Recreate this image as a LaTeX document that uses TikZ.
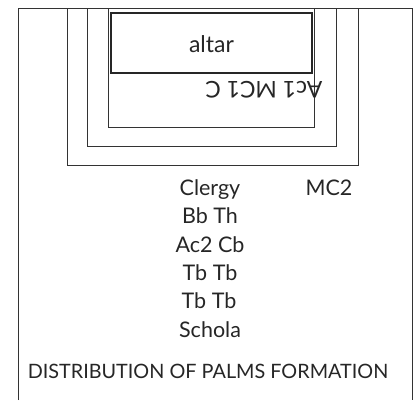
\documentclass[tikz,border=0pt]{standalone}
\usepackage{fontspec}
\setmainfont{Lato}
\begin{document}
\begin{tikzpicture}[x=1pt,y=-1pt,
  thin line/.style={draw=black!80,line width=0.9pt},
  altarbox/.style={draw=black!85,line width=2.4pt},
  lbl/.style={font=\fontsize{21.5}{24}\selectfont,text=black!85,inner sep=0pt,anchor=base},
  big/.style={font=\fontsize{23}{26}\selectfont},
  caption/.style={font=\fontsize{19.8}{22}\selectfont}]
\useasboundingbox (0,0) rectangle (415,400);
% outer frame (open at bottom)
\draw[thin line] (18.5,400) -- (18.5,8) -- (412.5,8) -- (412.5,400);
% nested U shapes
\draw[thin line] (67,8) -- (67,165) -- (358,165) -- (358,8);
\draw[thin line] (87,8) -- (87,146) -- (336,146) -- (336,8);
\draw[thin line] (108,8) -- (108,127) -- (314,127) -- (314,8);
% altar
\draw[altarbox] (111,13) rectangle (312,73);
\node[lbl,big,anchor=center] (altar) at (211.5,44) {altar};
\node[lbl,big,rotate=180] (ac) at (264,81) {Ac1 MC1 C};
% list
\node[lbl] (clergy) at (210,195) {Clergy};
\node[lbl] (mc2) at (329,195) {MC2};
\node[lbl] (bbth) at (210,223) {Bb Th};
\node[lbl] (ac2cb) at (210,252) {Ac2 Cb};
\node[lbl] (tbtb1) at (210,280) {Tb Tb};
\node[lbl] (tbtb2) at (209,308.5) {Tb Tb};
\node[lbl] (schola) at (210,337) {Schola};
\node[lbl,caption] (title) at (208,378) {DISTRIBUTION OF PALMS FORMATION};
\end{tikzpicture}
\end{document}
